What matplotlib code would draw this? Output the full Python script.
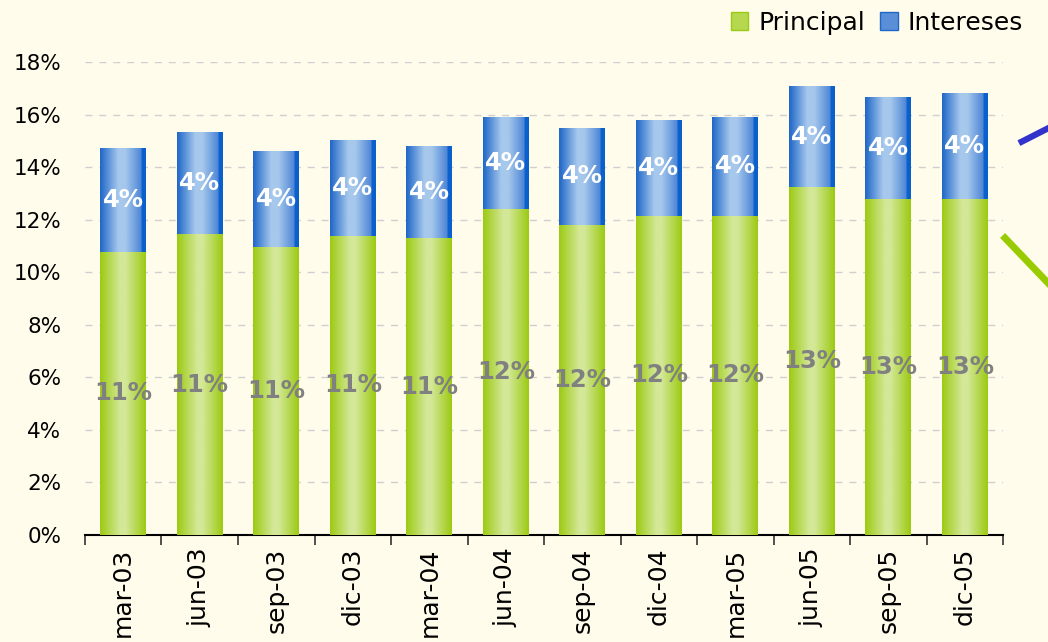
import matplotlib
matplotlib.use("Agg")
import matplotlib.pyplot as plt
import numpy as np
from matplotlib.colors import LinearSegmentedColormap
from matplotlib.lines import Line2D
from matplotlib.patches import Patch

# data (percent)
periodos = ["mar-03", "jun-03", "sep-03", "dic-03", "mar-04", "jun-04",
            "sep-04", "dic-04", "mar-05", "jun-05", "sep-05", "dic-05"]
principal = [10.77, 11.45, 10.96, 11.38, 11.30, 12.40,
             11.80, 12.14, 12.14, 13.24, 12.79, 12.79]
intereses = [3.96, 3.88, 3.65, 3.65, 3.52, 3.51,
             3.69, 3.65, 3.77, 3.85, 3.88, 4.03]
yticks = [0, 2, 4, 6, 8, 10, 12, 14, 16, 18]

BG = "#FFFCEB"
green_cmap = LinearSegmentedColormap.from_list(
    "g", [(0, "#9CCA12"), (0.45, "#D4E899"), (0.55, "#D4E899"), (1, "#9CCA12")])
blue_cmap = LinearSegmentedColormap.from_list(
    "b", [(0, "#1E66C8"), (0.4, "#A6C8EC"), (0.55, "#A6C8EC"), (0.9, "#4D86D6"),
          (0.91, "#0A60CC"), (1, "#0A60CC")])
grad = np.linspace(0, 1, 256).reshape(1, -1)

fig = plt.figure(figsize=(10.48, 6.42), dpi=100, facecolor=BG)
ax = fig.add_axes([0.0811, 0.1667, 0.8760, 0.7367], facecolor=BG)

x = np.arange(len(periodos))
width = 0.6
bars_p = ax.bar(x, principal, width, color="#B5D84E", zorder=2)
bars_i = ax.bar(x, intereses, width, bottom=principal, color="#5A8FD8", zorder=2)


def fill_gradient(bars, cmap):
    for b in bars:
        x0, y0 = b.get_x(), b.get_y()
        im = ax.imshow(grad, cmap=cmap, aspect="auto", zorder=3,
                       extent=(x0, x0 + b.get_width(), y0, y0 + b.get_height()))
        im.set_clip_path(b)


fill_gradient(bars_p, green_cmap)
fill_gradient(bars_i, blue_cmap)

for xi, p, it in zip(x, principal, intereses):
    ax.text(xi, p / 2, f"{p:.0f}%", ha="center", va="center", fontsize=17.5,
            fontweight="bold", color="#808080", zorder=5)
    ax.text(xi, p + it / 2, f"{it:.0f}%", ha="center", va="center", fontsize=17.5,
            fontweight="bold", color="white", zorder=5)

ax.set_xlim(-0.5, len(periodos) - 0.5)
ax.set_ylim(0, 18)
ax.set_yticks(yticks)
ax.set_yticklabels([f"{v}%" for v in yticks], fontsize=15.5)
ax.tick_params(axis="y", length=0, pad=17)
ax.yaxis.grid(True, linestyle=(0, (5, 5)), color="#CFCFCF", linewidth=1, zorder=0)
ax.set_axisbelow(True)

ax.set_xticks(x)
ax.set_xticklabels(periodos, rotation=90, fontsize=18)
ax.set_xticks(np.arange(len(periodos) + 1) - 0.5, minor=True)
ax.tick_params(axis="x", which="major", length=0, pad=9)
ax.tick_params(axis="x", which="minor", length=7, width=1.2, color="#333333")

for s in ["left", "right", "top"]:
    ax.spines[s].set_visible(False)
ax.spines["bottom"].set_linewidth(1.5)

handles = [Patch(facecolor="#B5D84E", edgecolor="#9CCA12"),
           Patch(facecolor="#5A8FD8", edgecolor="#1E66C8")]
fig.legend(handles, ["Principal", "Intereses"], loc="upper left",
           bbox_to_anchor=(0.676, 1.018), ncol=2, frameon=False, fontsize=18,
           handlelength=0.7, handleheight=0.7, handletextpad=0.4, columnspacing=0.6)

# decorative connector lines cut by the right edge
fig.add_artist(Line2D([1021.7 / 1048, 1.0], [1 - 141.7 / 642, 1 - 128.3 / 642],
                      color="#3333CC", linewidth=4.5, transform=fig.transFigure))
fig.add_artist(Line2D([1005 / 1048, 1.0], [1 - 238 / 642, 1 - 283 / 642],
                      color="#99CC00", linewidth=5, transform=fig.transFigure))

fig.savefig("out.png", dpi=100, facecolor=BG)
